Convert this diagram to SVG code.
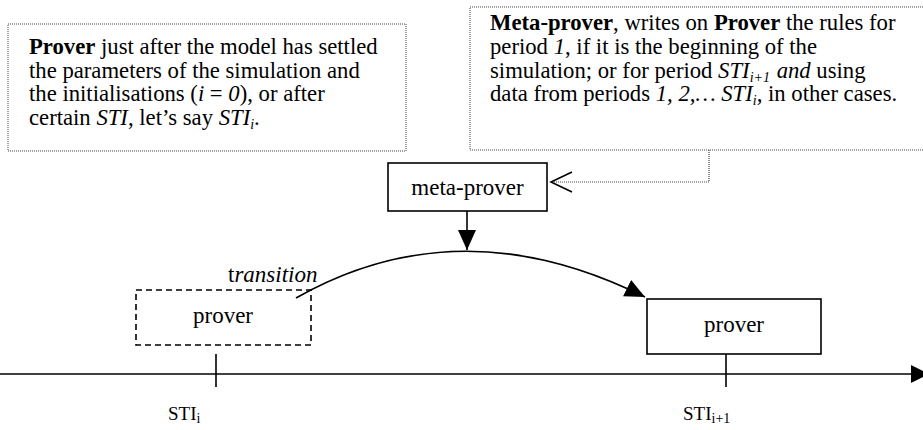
<svg xmlns="http://www.w3.org/2000/svg" width="923" height="430" viewBox="0 0 923 430">
<style>
text{font-family:"Liberation Serif","Times New Roman",serif;fill:#000}
.note{font-size:22.7px}
.lbl{font-size:23px}
.sti{font-size:19px}
.b{font-weight:bold}
.i{font-style:italic}
.sub{font-size:14px}
.dotted{fill:#fff;stroke:#444;stroke-width:1;stroke-dasharray:1 1}
.box{fill:#fff;stroke:#000;stroke-width:1.6}
.dash{fill:none;stroke:#000;stroke-width:1.6;stroke-dasharray:6 4}
.line{fill:none;stroke:#000;stroke-width:1.6}
</style>
<defs>
<marker id="tri" markerUnits="userSpaceOnUse" markerWidth="22" markerHeight="20" refX="20" refY="9" orient="auto">
<path d="M0,0 L20,9 L0,18 z" fill="#000"/>
</marker>
</defs>
<g id="note-prover">
<rect class="dotted" x="8" y="24" width="398" height="127"/>
<text class="note" x="29" y="54"><tspan class="b">Prover</tspan> just after the model has settled</text>
<text class="note" x="29" y="78">the parameters of the simulation and</text>
<text class="note" x="29" y="101">the initialisations (<tspan class="i">i</tspan> = <tspan class="i">0</tspan>), or after</text>
<text class="note" x="29" y="125">certain <tspan class="i">STI</tspan>, let’s say <tspan class="i">STI</tspan><tspan class="i sub" dy="4">i</tspan><tspan dy="-4">.</tspan></text>
</g>
<g id="note-meta">
<rect class="dotted" x="470" y="7" width="470" height="143"/>
<text class="note" x="490" y="30"><tspan class="b">Meta-prover</tspan>, writes on <tspan class="b">Prover</tspan> the rules for</text>
<text class="note" x="490" y="54">period <tspan class="i">1</tspan>, if it is the beginning of the</text>
<text class="note" x="490" y="78">simulation; or for period <tspan class="i">STI</tspan><tspan class="i sub" dy="4">i+1</tspan><tspan class="i" dy="-4" dx="1"> and</tspan> using</text>
<text class="note" x="490" y="101">data from periods <tspan class="i">1, 2,… STI</tspan><tspan class="i sub" dy="4">i</tspan><tspan class="i" dy="-4">,</tspan> in other cases.</text>
</g>
<g id="meta-prover">
<rect class="box" x="388" y="163" width="159" height="48"/>
<text class="lbl" x="467.5" y="195" text-anchor="middle">meta-prover</text>
</g>
<g id="prover-i">
<rect class="dash" x="136" y="290" width="175" height="55"/>
<text class="lbl" x="223" y="323" text-anchor="middle">prover</text>
</g>
<g id="prover-i1">
<rect class="box" x="647" y="299" width="174" height="55"/>
<text class="lbl" x="734" y="332" text-anchor="middle">prover</text>
</g>
<g id="timeline">
<line class="line" x1="0" y1="374" x2="912" y2="374"/>
<polygon points="911,365 929,374 911,383" fill="#000"/>
<line class="line" x1="216" y1="354" x2="216" y2="387"/>
<line class="line" x1="726" y1="354" x2="726" y2="387"/>
<text class="sti" x="168" y="420">STI<tspan class="sub" dy="3">i</tspan></text>
<text class="sti" x="683" y="420">STI<tspan class="sub" dy="3">i+1</tspan></text>
</g>
<g id="connectors">
<path class="line" d="M296,298 Q460,205 645,297" marker-end="url(#tri)"/>
<line class="line" x1="467" y1="211" x2="467" y2="250" marker-end="url(#tri)"/>
<polyline points="709,150 709,182 553,182" fill="none" stroke="#444" stroke-width="1.2" stroke-dasharray="1 1"/>
<polyline points="572,172 551,182 572,192" fill="none" stroke="#000" stroke-width="1.6"/>
<text class="lbl" x="228" y="282">t<tspan class="i">ransition</tspan></text>
</g>
</svg>
